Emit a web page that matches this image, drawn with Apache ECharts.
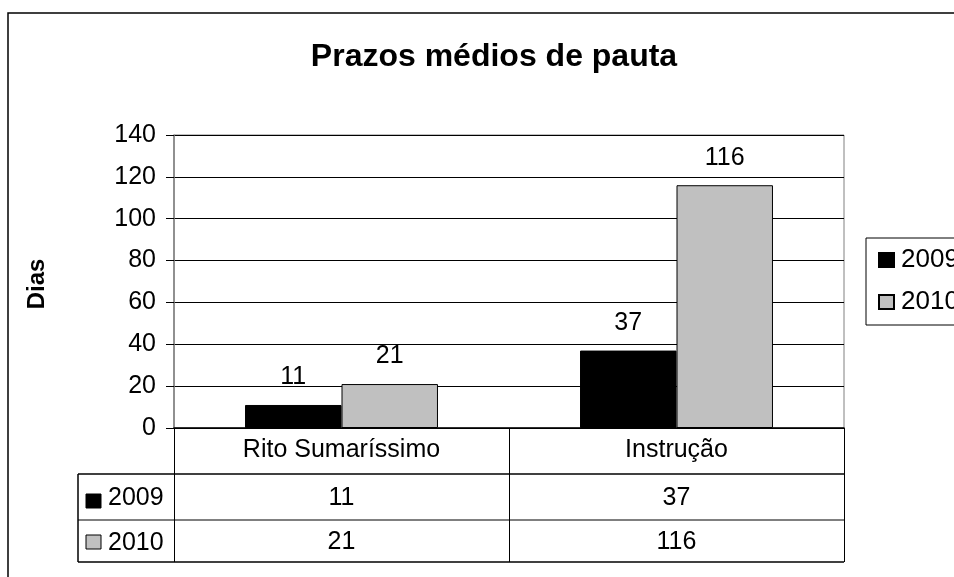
<!DOCTYPE html>
<html>
<head>
<meta charset="utf-8">
<script src="https://cdn.jsdelivr.net/npm/echarts@6/dist/echarts.min.js"></script>
<style>
html,body{margin:0;padding:0;background:#fff;}
#chart{width:954px;height:577px;}
</style>
</head>
<body>
<div id="chart"></div>
<script>
const titleText = 'Prazos médios de pauta';
const yAxisName = 'Dias';
const categories = ['Rito Sumaríssimo', 'Instrução'];
const seriesNames = ['2009', '2010'];
const values2009 = [11, 37];
const values2010 = [21, 116];
const yTicks = [0, 20, 40, 60, 80, 100, 120, 140];

const FONT = '"Liberation Sans", Arial, sans-serif';
const chart = echarts.init(document.getElementById('chart'), null, {renderer: 'canvas'});

const colors = ['#000000', '#c0c0c0'];

const option = {
  animation: false,
  backgroundColor: '#ffffff',
  textStyle: {fontFamily: FONT, color: '#000'},
  title: {
    text: titleText,
    left: 489,
    top: 36,
    textAlign: 'center',
    textStyle: {fontFamily: FONT, fontSize: 32, fontWeight: 'bold', color: '#000'}
  },
  legend: {
    orient: 'vertical',
    left: 866,
    top: 238,
    padding: [9, 10, 10, 12],
    itemGap: 16,
    itemWidth: 15,
    itemHeight: 14,
    borderColor: '#000',
    borderWidth: 1,
    icon: 'rect',
    data: seriesNames,
    textStyle: {fontFamily: FONT, fontSize: 26, color: '#000', padding: [0, 0, 0, 2]}
  },
  grid: {
    left: 174, right: 110, top: 135, bottom: 149,
    show: true, borderColor: '#808080', borderWidth: 1, containLabel: false
  },
  xAxis: [
    {
      type: 'category',
      data: categories,
      position: 'bottom',
      axisLine: {show: true, lineStyle: {color: '#000', width: 1.5}},
      axisTick: {show: true, inside: false, length: 134, interval: 0, lineStyle: {color: '#000', width: 1}},
      axisLabel: {fontFamily: FONT, fontSize: 25, color: '#000', margin: 10, interval: 0}
    },
    {
      type: 'category',
      data: values2009.map(String),
      position: 'bottom',
      offset: 46,
      axisLine: {show: false},
      axisTick: {show: false},
      axisLabel: {fontFamily: FONT, fontSize: 25, color: '#000', margin: 12, interval: 0}
    },
    {
      type: 'category',
      data: values2010.map(String),
      position: 'bottom',
      offset: 92,
      axisLine: {show: false},
      axisTick: {show: false},
      axisLabel: {fontFamily: FONT, fontSize: 25, color: '#000', margin: 10, interval: 0}
    }
  ],
  yAxis: {
    type: 'value',
    min: yTicks[0],
    max: yTicks[yTicks.length - 1],
    interval: yTicks[1] - yTicks[0],
    axisLine: {show: true, lineStyle: {color: '#808080', width: 1.5}},
    axisTick: {show: true, inside: false, length: 8, lineStyle: {color: '#000'}},
    axisLabel: {fontFamily: FONT, fontSize: 25, color: '#000', margin: 18},
    splitLine: {show: true, lineStyle: {color: '#000', width: 1}}
  },
  series: [
    {
      name: seriesNames[0],
      type: 'bar',
      data: values2009,
      barWidth: '28.8%',
      barGap: '0%',
      itemStyle: {color: colors[0], borderColor: '#000', borderWidth: 1},
      label: {show: true, position: 'top', distance: 15, fontFamily: FONT, fontSize: 25, color: '#000'}
    },
    {
      name: seriesNames[1],
      type: 'bar',
      data: values2010,
      barWidth: '28.8%',
      barGap: '0%',
      itemStyle: {color: colors[1], borderColor: '#000', borderWidth: 1},
      label: {show: true, position: 'top', distance: 15, fontFamily: FONT, fontSize: 25, color: '#000'}
    }
  ],
  graphic: [
    {type: 'rect', shape: {x: 8, y: 13, width: 1200, height: 1000}, style: {fill: 'none', stroke: '#000', lineWidth: 1.5}, silent: true},
    {type: 'text', x: 37, y: 284, rotation: Math.PI / 2,
      style: {text: yAxisName, font: 'bold 24px ' + FONT, fill: '#000', textAlign: 'center', textVerticalAlign: 'middle'}},
    {type: 'line', shape: {x1: 78, y1: 474, x2: 844, y2: 474}, style: {stroke: '#000', lineWidth: 1.5}},
    {type: 'line', shape: {x1: 78, y1: 520, x2: 844, y2: 520}, style: {stroke: '#000', lineWidth: 1}},
    {type: 'line', shape: {x1: 78, y1: 562, x2: 844, y2: 562}, style: {stroke: '#000', lineWidth: 1.5}},
    {type: 'line', shape: {x1: 78, y1: 474, x2: 78, y2: 562}, style: {stroke: '#000', lineWidth: 1.5}},
    {type: 'rect', shape: {x: 86, y: 494, width: 15, height: 14}, style: {fill: colors[0], stroke: '#000', lineWidth: 1}},
    {type: 'text', x: 108, y: 498, style: {text: seriesNames[0], font: '25px ' + FONT, fill: '#000', textVerticalAlign: 'middle'}},
    {type: 'rect', shape: {x: 86, y: 535, width: 15, height: 14}, style: {fill: colors[1], stroke: '#000', lineWidth: 1}},
    {type: 'text', x: 108, y: 543, style: {text: seriesNames[1], font: '25px ' + FONT, fill: '#000', textVerticalAlign: 'middle'}}
  ]
};
chart.setOption(option);
</script>
</body>
</html>
